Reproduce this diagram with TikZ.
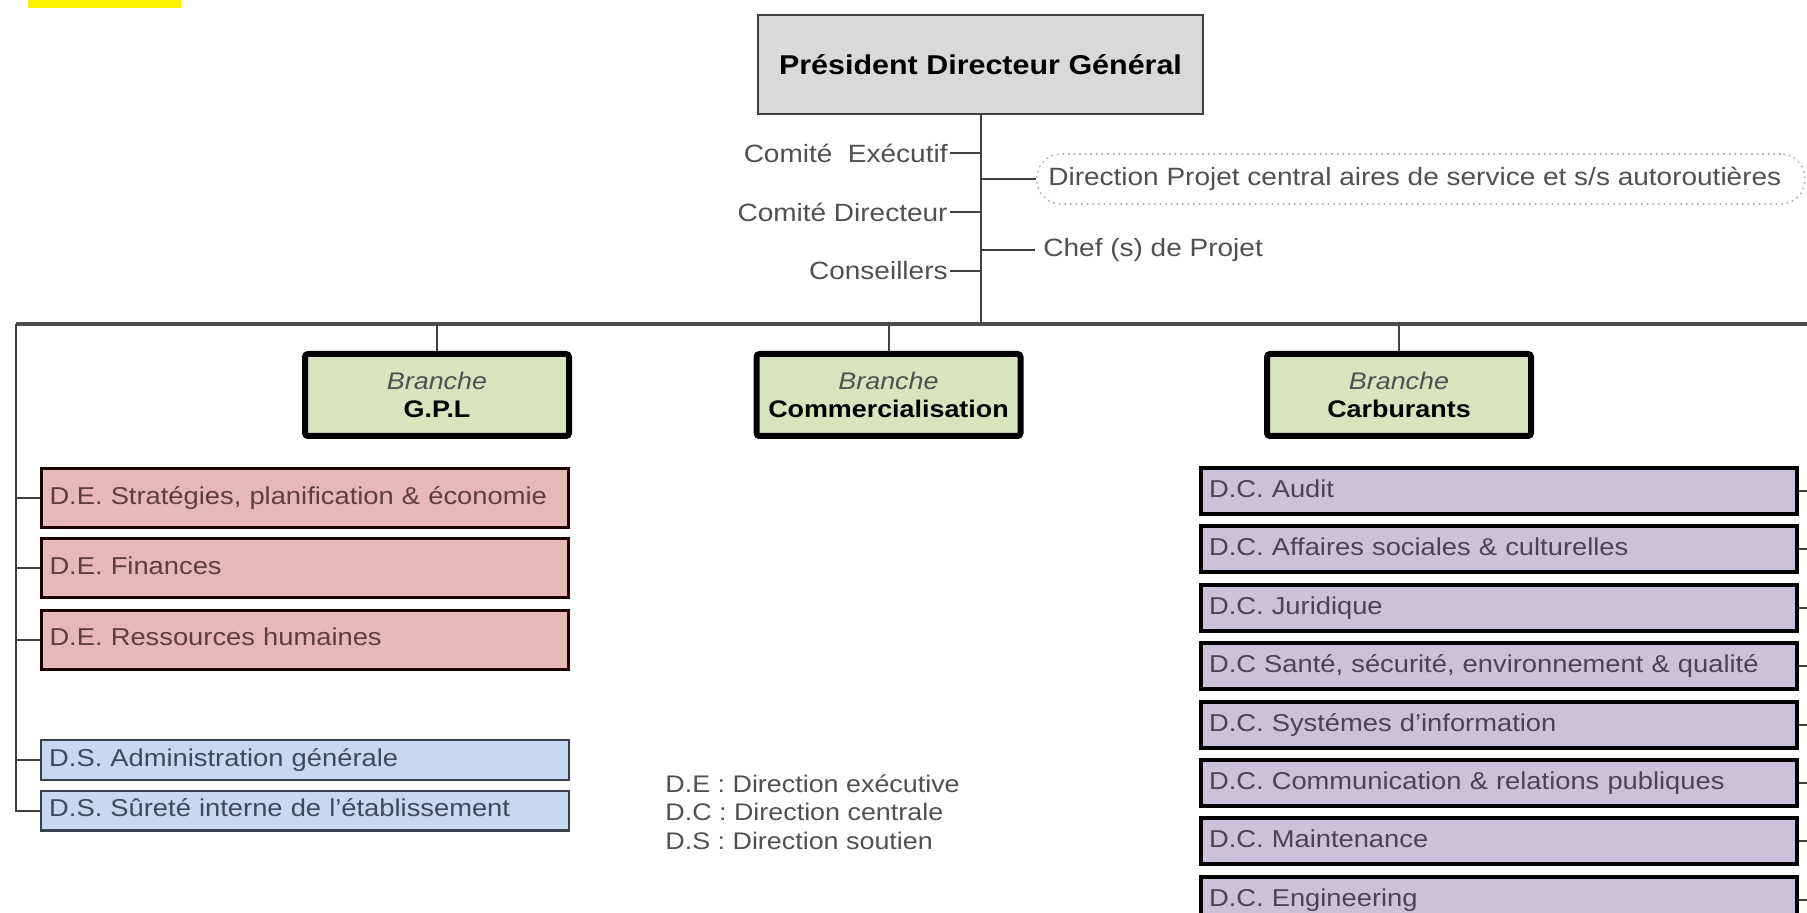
\documentclass[tikz,border=0pt]{standalone}
\usepackage{fontspec}
\setmainfont{Liberation Sans}[FakeStretch=1.12]
\usetikzlibrary{positioning}

\definecolor{pdgFill}{HTML}{D9D9D9}
\definecolor{brFill}{HTML}{D7E4BD}
\definecolor{deFill}{HTML}{E6B9B8}
\definecolor{deText}{HTML}{5E3E3E}
\definecolor{dsFill}{HTML}{C6D9F1}
\definecolor{dsText}{HTML}{3E4A5C}
\definecolor{dsDraw}{HTML}{3A404C}
\definecolor{dcFill}{HTML}{CCC1DA}
\definecolor{dcText}{HTML}{4A4356}
\definecolor{lblText}{HTML}{505050}
\definecolor{hiYellow}{HTML}{FFF200}

\begin{document}
\begin{tikzpicture}[
  x=0.5pt, y=-0.5pt,
  font=\fontsize{12.5}{14}\selectfont,
  conn/.style     = {draw=black!75, line width=1pt},
  bar line/.style = {draw=black!70, line width=1.6pt},
  pdg box/.style  = {draw=black!75, line width=1pt, fill=pdgFill,
                     minimum width=222.5pt, minimum height=49.5pt,
                     font=\fontsize{13.6}{16}\selectfont\bfseries},
  br box/.style   = {draw=black, line width=3pt, rounded corners=1.5pt,
                     fill=brFill, minimum width=132pt, minimum height=41pt,
                     align=center, font=\fontsize{12}{14}\selectfont},
  dir box/.style  = {anchor=west, inner xsep=4pt, align=left,
                     text height=9pt, text depth=2.6pt,
                     font=\fontsize{12.2}{14}\selectfont},
  de box/.style   = {dir box, draw=black!88!red, line width=1.5pt,
                     fill=deFill, text=deText, text width=255.5pt,
                     minimum height=29.5pt},
  ds box/.style   = {dir box, draw=dsDraw, line width=1.2pt, fill=dsFill,
                     text=dsText, text width=255.8pt, minimum height=19.8pt},
  dc box/.style   = {dir box, draw=black, line width=2pt, fill=dcFill,
                     text=dcText, text width=290pt, minimum height=23pt},
  lbl/.style      = {text=lblText, inner xsep=1pt},
]

\useasboundingbox (0,0) rectangle (1807,913);

% ── Top highlight ─────────────────────────────────────────────────────────
\fill[hiYellow] (28,0) rectangle (181,8);

% ── Head of the chart ─────────────────────────────────────────────────────
\node[pdg box] (pdg) at (980.5,64.5) {Président Directeur Général};

% main bar: left end and right end (right trunk runs just off the page)
\coordinate (lbar) at (16,324);
\coordinate (rbar) at (1812,324);

\draw[conn] (pdg.south) -- (pdg.south |- lbar);
\draw[bar line] (lbar) -- (rbar);

% ── Staff around the PDG ──────────────────────────────────────────────────
\node[lbl, anchor=east] (cexec) at (950,153) {Comité\ \ Exécutif};
\node[lbl, anchor=east] (cdir)  at (950,212) {Comité Directeur};
\node[lbl, anchor=east] (cons)  at (950,271) {Conseillers};

\draw[conn] (cexec.east) -- (cexec.east -| pdg.south);
\draw[conn] (cdir.east)  -- (cdir.east -| pdg.south);
\draw[conn] (cons.east)  -- (cons.east -| pdg.south);

\node[draw=black!30, dotted, line width=0.8pt, rounded corners=12pt,
      anchor=west, text=lblText, minimum width=384pt, minimum height=25pt]
  (proj) at (1036,179) {Direction Projet central aires de service et s/s autoroutières\hspace*{6pt}};
\node[lbl, anchor=west, inner xsep=4pt] (chef) at (1035,250) {Chef (s) de Projet};

\draw[conn] (proj.west -| pdg.south) -- (proj.west);
\draw[conn] (chef.west -| pdg.south) -- (chef.west);

% ── Branches ──────────────────────────────────────────────────────────────
\node[br box] (gpl)  at (437,395)
  {\textcolor{lblText}{\itshape Branche}\\\bfseries G.P.L};
\node[br box] (comm) at (888.5,395)
  {\textcolor{lblText}{\itshape Branche}\\\bfseries Commercialisation};
\node[br box] (carb) at (1399,395)
  {\textcolor{lblText}{\itshape Branche}\\\bfseries Carburants};

\draw[conn] (gpl.north)  -- (gpl.north |- lbar);
\draw[conn] (comm.north) -- (comm.north |- lbar);
\draw[conn] (carb.north) -- (carb.north |- lbar);

% ── Directions executives / soutien (left trunk) ──────────────────────────
\node[de box] (de1) at (40,498)   {D.E. Stratégies, planification \& économie};
\node[de box] (de2) at (40,568)   {D.E. Finances};
\node[de box] (de3) at (40,639.5) {D.E. Ressources humaines};

\node[ds box] (ds1) at (40,760)   {D.S. Administration générale};
\node[ds box] (ds2) at (40,810.5) {D.S. Sûreté interne de l’établissement};

\draw[conn] (lbar) |- (ds2.west);
\foreach \n in {de1,de2,de3,ds1} {
  \draw[conn] (\n.west -| lbar) -- (\n.west);
}

% ── Legend ────────────────────────────────────────────────────────────────
\node[anchor=west, align=left, text=lblText, inner sep=0pt,
      font=\fontsize{12}{14.25}\selectfont] (legend) at (665,812)
  {D.E : Direction exécutive\\D.C : Direction centrale\\D.S : Direction soutien};

% ── Directions centrales (right trunk) ────────────────────────────────────
\foreach \i/\lbl in {1/{D.C. Audit},
                     2/{D.C. Affaires sociales \& culturelles},
                     3/{D.C. Juridique},
                     4/{D.C Santé, sécurité, environnement \& qualité},
                     5/{D.C. Systémes d’information},
                     6/{D.C. Communication \& relations publiques},
                     7/{D.C. Maintenance},
                     8/{D.C. Engineering}} {
  \pgfmathsetmacro{\dcy}{491 + (\i - 1) * 58.4}
  \node[dc box] (dc\i) at (1199,\dcy) {\lbl};
  \draw[conn] (dc\i.east) -- (dc\i.east -| rbar);
}
\draw[conn] (rbar) |- (dc8.east);

\end{tikzpicture}
\end{document}
